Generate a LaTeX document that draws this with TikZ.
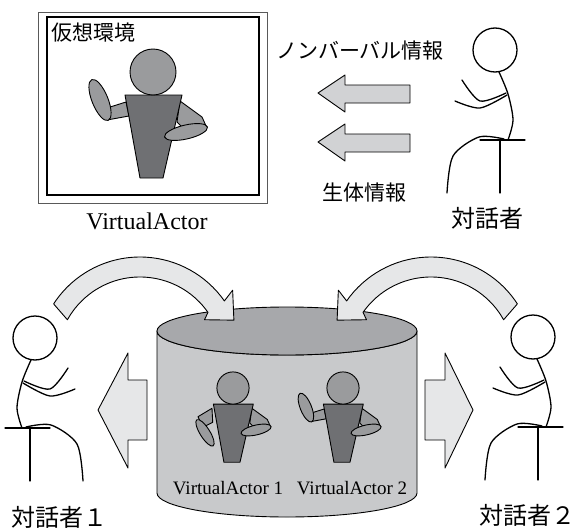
\documentclass[tikz,border=0pt]{standalone}
\usepackage{fontspec}
\setmainfont{Liberation Serif}
\newfontfamily\jp{Noto Sans CJK JP}

\definecolor{headgray}{HTML}{9A9B9D}
\definecolor{bodygray}{HTML}{6F7073}
\definecolor{cyltop}{HTML}{A7A8AB}
\definecolor{cylside}{HTML}{C8C9CB}
\definecolor{bentfill}{HTML}{E6E7E8}
\definecolor{flatfill}{HTML}{D1D2D4}

\tikzset{
  person/.style={line width=1.3pt, line cap=round},
  outline/.style={draw=black, line width=0.9pt, line join=round},
  jplabel/.style={inner sep=0pt, font=\jp\fontsize{21pt}{21pt}\selectfont},
  % 坐着的对话者（朝左），原点为头部圆心
  pics/sitter/.style={code={
    \draw[person] (0,0) circle[radius=22];
    \draw[person] plot[smooth] coordinates {(4,22) (13,44) (18,70) (13,90)};
    \draw[person] plot[smooth] coordinates {(-33,30) (-15,51) (11,43)};
    \draw[person] plot[smooth] coordinates {(-40,51) (-15,58) (12,45)};
    \draw[person] (-15,90) -- (30,90);
    \draw[person] (5,90) -- (5,143);
    \draw[person] plot[smooth] coordinates {(9,89) (-16,87) (-42,106) (-48,143)};
  }},
  % 虚拟角色，#1 为左臂姿势
  pics/actor/.style={code={
    \pic[transform shape] {#1 arm};
    \draw[outline, fill=headgray] (27,29) -- (49,45) -- (54,56) -- (30,56) -- (24,50) -- cycle;
    \draw[outline, fill=bodygray] (-28,23) -- (29,23) -- (10,106) -- (-13,106) -- cycle;
    \draw[outline, fill=headgray, shift={(33,60)}, rotate=13] (0,0) ellipse[x radius=22, y radius=7];
    \draw[outline, fill=headgray] (0,0) circle[radius=23];
  }},
  pics/raised arm/.style={code={
    \draw[outline, fill=headgray] (-27,30) -- (-46,36) -- (-46,48) -- (-24,44) -- cycle;
    \draw[outline, fill=headgray, shift={(-53,28)}, rotate=-68] (0,0) ellipse[x radius=22, y radius=8];
  }},
  pics/lowered arm/.style={code={
    \draw[outline, fill=headgray] (-30,29) -- (-50,41) -- (-43,56) -- (-29,49) -- cycle;
    \draw[outline, fill=headgray, shift={(-40,64)}, rotate=-58] (0,0) ellipse[x radius=22, y radius=7];
  }},
  % 弯箭头，原点为圆弧圆心
  pics/bent arrow/.style={code={
    \draw[outline, fill=bentfill] (-147:103) arc[start angle=-147, end angle=-35, radius=103]
      -- (-37:116) -- (-23:102) -- (-32:76) -- (-35:83)
      arc[start angle=-35, end angle=-151, radius=83] -- cycle;
  }},
  % 朝左的平箭头，原点为箭尖
  pics/flat arrow/.style={code={
    \draw[outline, fill=flatfill] (0,0) -- (27,-18) -- (27,-8) -- (92,-8) -- (92,10) -- (27,10) -- (27,19) -- cycle;
  }},
}

\begin{document}
\begin{tikzpicture}[x=1pt, y=-1pt]
    \useasboundingbox (0,0) rectangle (576,530);

    % === 上半部分：虚拟环境 ===
    \draw[draw=black!65, line width=0.6pt] (38,12) rectangle (267,203);
    \draw[line width=1.3pt] (47,17) rectangle (259,195);
    \node[jplabel, anchor=west] (env) at (51,33) {仮想環境};
    \pic at (153,72) {actor=raised};
    \node[inner sep=0pt, font=\fontsize{24pt}{24pt}\selectfont] (va) at (147,221) {VirtualActor};

    % 信息箭头
    \pic at (318,93) {flat arrow};
    \pic at (318,142) {flat arrow};
    \node[jplabel] (nonverbal) at (360,51) {ノンバーバル情報};
    \node[jplabel] (bio) at (364,193) {生体情報};

    % 对话者
    \pic at (495,50) {sitter};
    \node[jplabel, font=\jp\fontsize{24pt}{24pt}\selectfont] (user) at (487,218) {対話者};

    % === 下半部分：共享空间（圆柱） ===
    \draw[outline, fill=cylside] (157,331) -- (157,493)
      arc[start angle=180, end angle=0, x radius=130, y radius=24] -- (417,331)
      arc[start angle=0, end angle=180, x radius=130, y radius=24] -- cycle;
    \draw[outline, fill=cyltop] (287,331) ellipse[x radius=130, y radius=24];

    \pic[scale=.7] at (233,388) {actor=lowered};
    \pic[scale=.7] at (343,388) {actor=raised};
    \node[inner sep=0pt, font=\fontsize{19pt}{19pt}\selectfont] (va1) at (228,488) {VirtualActor 1};
    \node[inner sep=0pt, font=\fontsize{19pt}{19pt}\selectfont] (va2) at (352,488) {VirtualActor 2};

    % 弯箭头：对话者 -> 圆柱
    \pic at (140,360) {bent arrow};
    \pic[xscale=-1] at (431,360) {bent arrow};

    % 宽箭头：圆柱 -> 对话者
    \draw[outline, fill=bentfill] (98,410) -- (128,353) -- (128,380) -- (147,380) -- (147,440) -- (128,440) -- (128,468) -- cycle;
    \draw[outline, fill=bentfill] (473,410) -- (445,353) -- (445,380) -- (425,380) -- (425,440) -- (445,440) -- (445,468) -- cycle;

    % 对话者 1, 2
    \pic[xscale=-1] at (35,338) {sitter};
    \pic at (533,337) {sitter};
    \node[jplabel, anchor=west, font=\jp\fontsize{24pt}{24pt}\selectfont] (user1) at (11,517) {対話者１};
    \node[jplabel, anchor=west, font=\jp\fontsize{24pt}{24pt}\selectfont] (user2) at (479,515) {対話者２};
\end{tikzpicture}
\end{document}
